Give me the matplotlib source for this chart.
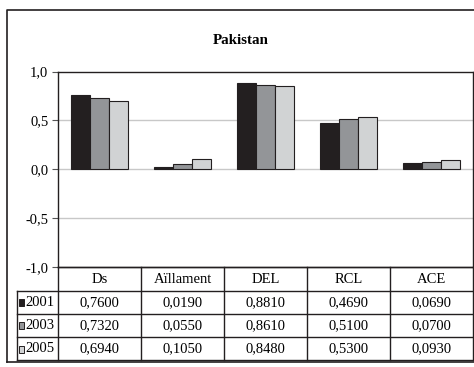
import matplotlib.pyplot as plt
import numpy as np

# Indicator values per year
categories = ["Ds", "Aïllament", "DEL", "RCL", "ACE"]
years = ["2001", "2003", "2005"]
v2001 = [0.7600, 0.0190, 0.8810, 0.4690, 0.0690]
v2003 = [0.7320, 0.0550, 0.8610, 0.5100, 0.0700]
v2005 = [0.6940, 0.1050, 0.8480, 0.5300, 0.0930]
colors = ["#231f20", "#939598", "#d1d3d4"]
title = "Pakistan"

plt.rcParams["font.family"] = ["Liberation Serif", "DejaVu Serif"]

W, H = 474, 367
fig = plt.figure(figsize=(W / 100, H / 100), dpi=100)

# pixel helpers
x0, x1 = 58, 473
ytop, ybot = 71.5, 267
ax = fig.add_axes([x0 / W, 1 - ybot / H, (x1 - x0) / W, (ybot - ytop) / H])

series = [v2001, v2003, v2005]
x = np.arange(len(categories))
bw = 0.23
for i, vals in enumerate(series):
    ax.bar(x + (i - 1) * bw, vals, bw, color=colors[i], edgecolor="#231f20",
           linewidth=0.8, zorder=3)

ax.set_xlim(-0.5, len(categories) - 0.5)
ax.set_ylim(-1.0, 1.0)
ax.set_yticks([-1.0, -0.5, 0.0, 0.5, 1.0])
ax.set_yticklabels([f"{t:.1f}".replace(".", ",") for t in [-1.0, -0.5, 0.0, 0.5, 1.0]],
                   fontsize=10.5)
ax.set_xticks([])
ax.tick_params(axis="y", direction="out", length=4, width=0.8, color="#555555", pad=3)
for t in [-0.5, 0.0, 0.5]:
    ax.axhline(t, color="#c8c8c8", linewidth=1, zorder=1)
for s in ax.spines.values():
    s.set_color("#231f20")
    s.set_linewidth(1)

# overlay in pixel coordinates for frame and data table
ov = fig.add_axes([0, 0, 1, 1])
ov.set_xlim(0, W)
ov.set_ylim(H, 0)
ov.axis("off")
ov.patch.set_alpha(0)
ov.plot([7, 7, W + 5], [362, 10, 10], color="#231f20", lw=1.2)
ov.plot([7, W + 5], [362, 362], color="#231f20", lw=1.2)

fig.text(0.5 * (7 + W) / W, 1 - 41 / H, title, ha="center", va="center",
         fontsize=10.8, fontweight="bold")

row_y = [267, 290.5, 313.5, 337, 360]
lab_x = 17
colw = (x1 - x0) / len(categories)
lc = "#231f20"
fs = 10.5
# horizontal lines
ov.plot([x0, x1], [row_y[0], row_y[0]], color=lc, lw=1)
for y in row_y[1:]:
    ov.plot([lab_x, x1], [y, y], color=lc, lw=1)
# vertical lines
ov.plot([lab_x, lab_x], [row_y[1], row_y[-1]], color=lc, lw=1)
for j in range(len(categories) + 1):
    xx = x0 + j * colw
    ov.plot([xx, xx], [row_y[0], row_y[-1]], color=lc, lw=1)

for j, c in enumerate(categories):
    ov.text(x0 + (j + 0.5) * colw, (row_y[0] + row_y[1]) / 2 + 0.5, c,
            ha="center", va="center", fontsize=fs)
for i, (yr, vals) in enumerate(zip(years, series)):
    yc = (row_y[i + 1] + row_y[i + 2]) / 2 + 0.5
    ov.add_patch(plt.Rectangle((19, yc - 3.5), 5.5, 7, facecolor=colors[i],
                               edgecolor="#231f20", lw=0.7))
    ov.text(25, yc, yr, ha="left", va="center", fontsize=fs)
    for j, v in enumerate(vals):
        ov.text(x0 + (j + 0.5) * colw, yc, f"{v:.4f}".replace(".", ","),
                ha="center", va="center", fontsize=fs)

fig.savefig("out.png", dpi=100)
